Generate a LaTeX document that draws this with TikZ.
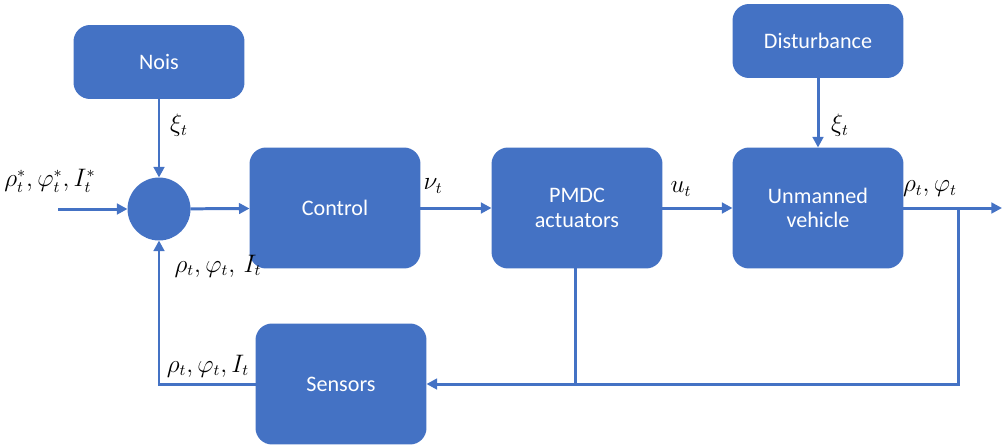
\documentclass[tikz,border=0pt]{standalone}
\usepackage{fontspec}
\setmainfont{Carlito}
\usetikzlibrary{arrows.meta,positioning}
\definecolor{boxblue}{HTML}{4472C4}
\tikzset{
    >={Triangle[length=6pt,width=6pt]},
    every edge/.style={draw,->,boxblue,line width=1.7pt}
}

\begin{document}
\begin{tikzpicture}[x=0.02cm,y=-0.02cm,
                    line width=1.7pt,
                    block/.style={rectangle,rounded corners=0.3cm,fill=boxblue,draw=boxblue,
                                  text=white,font=\fontsize{12.6}{14}\selectfont,align=center,
                                  minimum width=3.36cm,minimum height=2.36cm},
                    smallblock/.style={block,minimum height=1.42cm},
                    sumnode/.style={circle,fill=boxblue,draw=boxblue,minimum size=1.2cm,inner sep=0pt},
                    sig/.style={font=\fontsize{13.5}{15}\selectfont,inner sep=1pt}]
\useasboundingbox (0,0) rectangle (1003,447);

% Blocks
\node[smallblock] (nois) at (159,62) {Nois};
\node[smallblock] (dist) at (818,41) {Disturbance};
\node[sumnode] (circ) at (159,209) {};
\node[block] (ctrl) at (335,208) {Control};
\node[block] (pmdc) at (577,208) {PMDC\\actuators};
\node[block] (uv) at (818,208) {Unmanned\\vehicle};
\node[block] (sen) at (341,384) {Sensors};

% Free ends
\coordinate (in) at (58,209);
\coordinate (out) at (1002,208);
\coordinate (br) at (958,208);
\coordinate (fbr) at (958,384);
\coordinate (pj) at (575,384);

% Signals
\path (in) edge (circ);
\path (nois) edge (circ);
\path (circ) edge (ctrl);
\path (ctrl) edge (pmdc);
\path (pmdc) edge (uv);
\path (dist) edge (uv);
\path (uv) edge (out);
\draw[boxblue,->] (br) -- (fbr) -- (sen.east);
\draw[boxblue] (pmdc.south -| pj) -- (pj);
\draw[boxblue,->] (sen.west) -| (circ.south);

% Labels
\node[sig] (lref) at (50,181) {$\rho_t^*,\varphi_t^*,I_t^*$};
\node[sig] (lxi1) at (179,125) {$\xi_t$};
\node[sig] (lfb1) at (218,266) {$\rho_t,\varphi_t,\,I_t$};
\node[sig] (lnu) at (433,186) {$\nu_t$};
\node[sig] (lu) at (681,189) {$u_t$};
\node[sig] (lxi2) at (840,125) {$\xi_t$};
\node[sig] (lout) at (930,189) {$\rho_t,\varphi_t$};
\node[sig] (lfb2) at (208,366) {$\rho_t,\varphi_t,I_t$};

\end{tikzpicture}
\end{document}
